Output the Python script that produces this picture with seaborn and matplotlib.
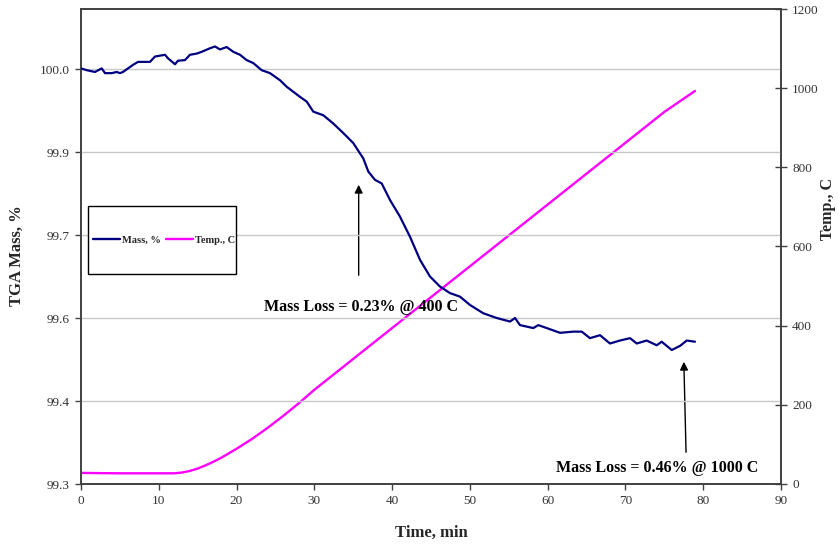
import numpy as np
import pandas as pd
import matplotlib
matplotlib.use("Agg")
import matplotlib.pyplot as plt
import seaborn as sns
from matplotlib.lines import Line2D
from matplotlib.patches import Rectangle

# ---------------- data ----------------
mass_time = [0.00, 0.73, 1.80, 2.66, 3.09, 3.95, 4.59, 5.01, 5.40, 6.04, 6.69, 7.33,
             8.87, 9.51, 10.80, 11.19, 12.09, 12.47, 13.37, 14.01, 14.88, 15.52, 16.59,
             17.23, 17.87, 18.73, 19.58, 20.44, 21.30, 22.15, 23.23, 24.30, 25.59, 26.45,
             28.16, 29.02, 29.87, 31.15, 32.44, 33.72, 35.01, 36.30, 36.94, 37.80, 38.66,
             39.73, 41.01, 42.30, 43.59, 44.87, 46.16, 47.44, 48.73, 50.01, 51.72, 53.45,
             55.16, 55.80, 56.44, 58.15, 58.80, 59.88, 61.59, 63.30, 64.38, 65.44, 66.73,
             68.01, 69.30, 70.59, 71.45, 72.73, 74.02, 74.66, 75.95, 77.02, 77.88, 78.94]
mass_pct = [100.001, 99.998, 99.995, 100.001, 99.993, 99.993, 99.995, 99.993, 99.995,
            100.001, 100.007, 100.012, 100.012, 100.021, 100.024, 100.018, 100.008, 100.014,
            100.015, 100.024, 100.026, 100.029, 100.035, 100.038, 100.033, 100.037, 100.029,
            100.024, 100.015, 100.010, 99.998, 99.993, 99.981, 99.970, 99.953, 99.945, 99.928,
            99.922, 99.908, 99.892, 99.875, 99.849, 99.827, 99.813, 99.807, 99.779, 99.751,
            99.717, 99.678, 99.650, 99.633, 99.622, 99.616, 99.602, 99.588, 99.580, 99.574,
            99.580, 99.568, 99.563, 99.568, 99.563, 99.555, 99.557, 99.557, 99.546, 99.551,
            99.537, 99.542, 99.546, 99.537, 99.542, 99.534, 99.540, 99.526, 99.533, 99.542,
            99.540]

temp_time = [0, 5, 10, 12, 13, 14, 15, 16, 17, 18, 20, 22, 24, 26, 28, 30, 35, 40,
             45, 50, 55, 60, 65, 70, 75, 78.94]
temp_c = [28, 27, 27, 27, 29, 33, 39, 47, 56, 66, 89, 114, 142, 172, 204, 238, 316,
          394, 472, 550, 628, 706, 784, 862, 940, 993]

left_ticks = [99.3, 99.44, 99.58, 99.72, 99.86, 100.0]
left_tick_labels = ["99.3", "99.4", "99.6", "99.7", "99.9", "100.0"]
right_ticks = [0, 200, 400, 600, 800, 1000, 1200]
x_ticks = [0, 10, 20, 30, 40, 50, 60, 70, 80, 90]

# ---------------- style ----------------
sns.set_style("white")
plt.rcParams["font.family"] = ["Liberation Serif", "DejaVu Serif"]

mass_df = pd.DataFrame({"t": mass_time, "m": mass_pct})
temp_df = pd.DataFrame({"t": temp_time, "T": temp_c})

fig = plt.figure(figsize=(8.38, 5.5), dpi=100)
ax = fig.add_axes([81 / 838, 66 / 550, 700 / 838, 475 / 550])
ax2 = ax.twinx()

MASS_C = "#000080"
TEMP_C = "#FF00FF"

sns.lineplot(data=mass_df, x="t", y="m", ax=ax, color=MASS_C, lw=1.6, zorder=3)
sns.lineplot(data=temp_df, x="t", y="T", ax=ax2, color=TEMP_C, lw=1.7, zorder=3)

ax.set_xlim(0, 90)
ax.set_ylim(99.3, 99.3 + 0.14 * 475 / 83)
ax2.set_ylim(0, 1200)

ax.set_xticks(x_ticks)
ax.set_xticklabels([str(v) for v in x_ticks])
ax.set_yticks(left_ticks)
ax.set_yticklabels(left_tick_labels)
ax2.set_yticks(right_ticks)
ax2.set_yticklabels([str(v) for v in right_ticks])

for v in left_ticks[1:]:
    ax.axhline(v, color="#C8C8C8", lw=1.0, zorder=1)

for a in (ax, ax2):
    for s in a.spines.values():
        s.set_color("#404040")
        s.set_linewidth(1.2)

ax.tick_params(axis="both", which="both", direction="out", length=4, width=1,
               color="#404040", labelsize=9.5, labelcolor="#333333", pad=4)
ax.tick_params(axis="y", left=True, right=False)
ax.tick_params(axis="x", bottom=True)
ax2.tick_params(axis="y", right=True, direction="inout", length=8, width=1,
                color="#404040", labelsize=9.5, labelcolor="#333333", pad=4)

ax.set_xlabel("Time, min", fontsize=12, fontweight="bold", labelpad=13)
ax.set_ylabel("TGA Mass, %", fontsize=12, fontweight="bold")
ax2.set_ylabel("Temp., C", fontsize=11.5, fontweight="bold")
ax2.yaxis.set_label_coords(1.056, 0.58)
ax.yaxis.set_label_coords(-0.080, 0.48)

# legend box
ax.add_patch(Rectangle((7 / 700, (484 - 274) / 475), 148 / 700, 68 / 475,
                       transform=ax.transAxes, fill=True, facecolor="white",
                       edgecolor="black", lw=1.0, zorder=4))
handles = [Line2D([], [], color=MASS_C, lw=1.7), Line2D([], [], color=TEMP_C, lw=1.7)]
leg = ax.legend(handles, ["Mass, %", "Temp., C"], ncol=2, loc="center",
                bbox_to_anchor=((164 - 81) / 700, (484 - 240) / 475),
                frameon=False, prop={"size": 7.5, "weight": "bold"},
                handlelength=2.6, handletextpad=0.2, columnspacing=0.5, borderaxespad=0)
leg.set_zorder(5)

# annotations
ax2.annotate("", xy=(35.7, (484 - 182) / 475 * 1200), xytext=(35.7, (484 - 278) / 475 * 1200),
             arrowprops=dict(arrowstyle="-|>", color="black", lw=1.0, mutation_scale=12))
ax2.text(36.06, (484 - 307) / 475 * 1200, "Mass Loss = 0.23% @ 400 C", ha="center", va="center",
         fontsize=11.5, fontweight="bold", color="black", zorder=6)
ax2.annotate("", xy=(77.5, (484 - 359) / 475 * 1200), xytext=(77.8, (484 - 455) / 475 * 1200),
             arrowprops=dict(arrowstyle="-|>", color="black", lw=1.0, mutation_scale=12))
ax2.text(74.1, (484 - 468) / 475 * 1200, "Mass Loss = 0.46% @ 1000 C", ha="center", va="center",
         fontsize=11.5, fontweight="bold", color="black", zorder=6)

ax.set_zorder(ax2.get_zorder() + 1)
ax.patch.set_visible(False)

fig.savefig("out.png", dpi=100)
